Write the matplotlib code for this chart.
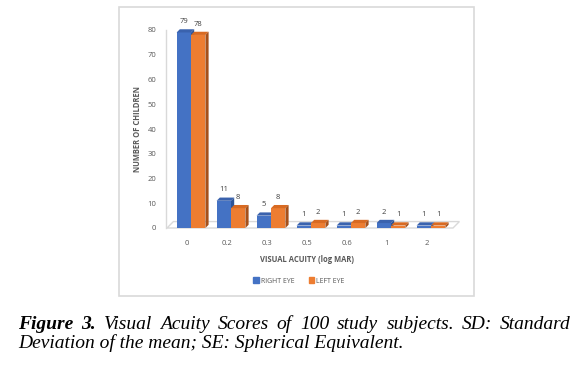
import numpy as np
import matplotlib
matplotlib.use('Agg')
import matplotlib.pyplot as plt
from matplotlib.patches import Polygon, Rectangle

categories = ['0', '0.2', '0.3', '0.5', '0.6', '1', '2']
right_eye = [79, 11, 5, 1, 1, 2, 1]
left_eye = [78, 8, 8, 2, 2, 1, 1]

blue, blue_side, blue_top = '#4472C4', '#2F5597', '#3A62AD'
orange, orange_side, orange_top = '#ED7D31', '#A5501A', '#D86A22'
txt_gray = '#595959'
line_gray = '#D9D9D9'
chart_font = 'Open Sans'

W, H = 582, 367
fig = plt.figure(figsize=(W / 100, H / 100), dpi=100)

# chart frame
fig.patches.append(Rectangle((119 / W, 1 - 296 / H), (474 - 119) / W, (296 - 7) / H,
                             transform=fig.transFigure, fill=False, ec=line_gray, lw=1.2))

ax = fig.add_axes([166 / W, 1 - 228 / H, (460 - 166) / W, (228 - 30) / H])
ax.set_xlim(-0.625, 6.725)
ax.set_ylim(0, 80)

x = np.arange(len(categories))
bw = 0.36
dx, dy = 0.08, 1.3  # fake 3d depth

def bar3d(xl, h, front, side, top, z):
    ax.bar(xl, h, bw, align='edge', color=front, zorder=z)
    ax.add_patch(Polygon([(xl, h), (xl + bw, h), (xl + bw + dx, h + dy), (xl + dx, h + dy)],
                         closed=True, fc=top, ec='none', zorder=z, clip_on=False))
    ax.add_patch(Polygon([(xl + bw, 0), (xl + bw + dx, dy), (xl + bw + dx, h + dy), (xl + bw, h)],
                         closed=True, fc=side, ec='none', zorder=z, clip_on=False))

# floor
ax.add_patch(Polygon([(-0.6, 0), (6.55, 0), (6.55 + 2 * dx, 2 * dy), (-0.6 + 2 * dx, 2 * dy)],
                     closed=True, fc='white', ec=line_gray, lw=1, zorder=1, clip_on=False))

for i in range(len(categories)):
    bar3d(x[i] - bw, right_eye[i], blue, blue_side, blue_top, 3 + 2 * i)
    bar3d(x[i], left_eye[i], orange, orange_side, orange_top, 4 + 2 * i)
    for xv, v in [(x[i] - bw / 2, right_eye[i]), (x[i] + bw / 2, left_eye[i])]:
        ax.annotate(str(v), (xv, v + dy), xytext=(0, 3), textcoords='offset points',
                    ha='center', va='bottom', fontsize=5.5, color='#404040',
                    family=chart_font, zorder=30, annotation_clip=False)

for s in ['top', 'right', 'bottom']:
    ax.spines[s].set_visible(False)
ax.spines['left'].set_color(line_gray)
ax.spines['left'].set_linewidth(1)
ax.set_yticks(range(0, 81, 10))
ax.set_xticks(x - 0.1)
ax.set_xticklabels(categories)
ax.tick_params(length=0, labelsize=5.5, labelcolor=txt_gray)
ax.tick_params(axis='y', pad=7)
ax.tick_params(axis='x', pad=9)
for lab in ax.get_xticklabels() + ax.get_yticklabels():
    lab.set_family(chart_font)
ax.patch.set_alpha(0)

ax.set_ylabel('NUMBER OF CHILDREN', fontsize=5.5, fontweight='bold', color=txt_gray,
              family=chart_font)
ax.yaxis.set_label_coords((142 - 166) / (460 - 166), 0.5)
ax.set_xlabel('VISUAL ACUITY (log MAR)', fontsize=5.5, fontweight='bold', color=txt_gray,
              family=chart_font)
ax.xaxis.set_label_coords((307 - 166) / (460 - 166), -(255 - 228) / (228 - 30))

# legend
handles = [Rectangle((0, 0), 1, 1, color=blue), Rectangle((0, 0), 1, 1, color=orange)]
fig.legend(handles, ['RIGHT EYE', 'LEFT EYE'], loc='center', bbox_to_anchor=(299 / W, 1 - 281 / H),
           ncol=2, frameon=False, prop={'family': chart_font, 'size': 5},
           labelcolor=txt_gray, handlelength=0.8, handleheight=0.8, handletextpad=0.3,
           columnspacing=2.0)

# caption, justified first line
renderer = fig.canvas.get_renderer()
serif = 'Liberation Serif'
line2 = 'Deviation of the mean; SE: Spherical Equivalent.'
probe = fig.text(0, 0, line2, fontsize=10, family=serif, style='italic')
fs = 10 * (405 - 18) / probe.get_window_extent(renderer).width
probe.remove()

words1 = [('Figure', 'bold'), ('3.', 'bold'), ('Visual', 'normal'), ('Acuity', 'normal'),
          ('Scores', 'normal'), ('of', 'normal'), ('100', 'normal'), ('study', 'normal'),
          ('subjects.', 'normal'), ('SD:', 'normal'), ('Standard', 'normal')]
y1 = 1 - 329 / H
texts = [fig.text(0, y1, w, fontsize=fs, family=serif, style='italic', weight=wt, va='baseline')
         for w, wt in words1]
widths = [t.get_window_extent(renderer).width for t in texts]
gap = (571 - 18 - sum(widths)) / (len(texts) - 1)
xp = 18
for t, wd in zip(texts, widths):
    t.set_x(xp / W)
    xp += wd + gap
fig.text(18 / W, 1 - 348 / H, line2, fontsize=fs, family=serif, style='italic', va='baseline')

fig.savefig('out.png', dpi=100)
